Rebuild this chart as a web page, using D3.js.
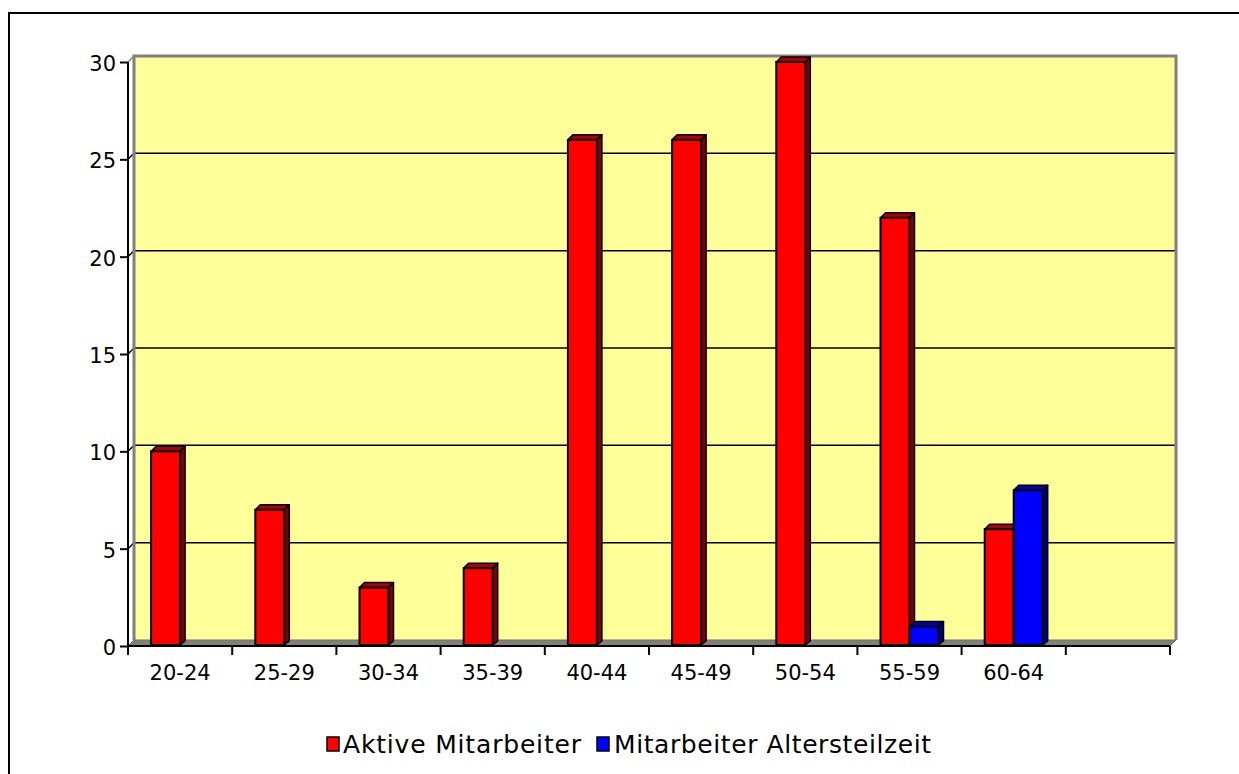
<!DOCTYPE html>
<html>
<head>
<meta charset="utf-8">
<title>Altersstruktur</title>
<script src="https://d3js.org/d3.v7.min.js"></script>
<style>
  body { margin: 0; background: #fff; }
  text { font-family: "DejaVu Sans", Verdana, sans-serif; fill: #000; }
</style>
</head>
<body>
<script>
var categories = ["20-24", "25-29", "30-34", "35-39", "40-44", "45-49", "50-54", "55-59", "60-64", ""];
var aktive = [10, 7, 3, 4, 26, 26, 30, 22, 6, null];
var altersteilzeit = [null, null, null, null, null, null, null, 1, 8, null];
var seriesNames = ["Aktive Mitarbeiter", "Mitarbeiter Altersteilzeit"];
var yTicks = [0, 5, 10, 15, 20, 25, 30];

var width = 1239, height = 774;
var depth = 6;      // wall depth
var barDepth = 5;   // column depth

var colors = {
  front: ["#ff0000", "#0000ff"],
  top:   ["#b00000", "#0000b0"],
  side:  ["#800000", "#000080"]
};

var svg = d3.select("body").append("svg")
    .attr("width", width)
    .attr("height", height);

// outer frame
svg.append("rect")
    .attr("x", 9).attr("y", 13)
    .attr("width", 1240).attr("height", 780)
    .attr("fill", "none")
    .attr("stroke", "#000")
    .attr("stroke-width", 2);

var x0 = d3.scaleBand()
    .domain(categories.map(function(d, i) { return i; }))
    .range([128, 1170])
    .paddingInner(0);

var y = d3.scaleLinear()
    .domain([0, 30])
    .range([646, 62]);

var x1 = d3.scaleBand()
    .domain([0, 1])
    .range([0, 58]);

// note: "top" is reserved on window, so plot edges get their own names
var pLeft = 128, pRight = 1170, pBottom = y(0), pTop = y(30);

// back wall
svg.append("rect")
    .attr("x", pLeft + depth).attr("y", pTop - depth)
    .attr("width", pRight - pLeft).attr("height", pBottom - pTop)
    .attr("fill", "#ffff99");

// gridlines on back wall + side diagonals
var grid = svg.append("g");
yTicks.filter(function(v) { return v > 0; }).forEach(function(v) {
  grid.append("line")
      .attr("x1", pLeft).attr("y1", y(v))
      .attr("x2", pLeft + depth).attr("y2", y(v) - depth)
      .attr("stroke", v === 30 ? "#808080" : "#000").attr("stroke-width", 1.5);
  if (v < 30) {
    grid.append("line")
        .attr("x1", pLeft + depth).attr("y1", y(v) - depth)
        .attr("x2", pRight + depth).attr("y2", y(v) - depth)
        .attr("stroke", "#000").attr("stroke-width", 1.5);
  }
});

// wall edges
svg.append("polyline")
    .attr("points", [[pLeft + depth, pBottom - depth], [pLeft + depth, pTop - depth], [pRight + depth, pTop - depth], [pRight + depth, pBottom - depth]].join(" "))
    .attr("fill", "none")
    .attr("stroke", "#808080")
    .attr("stroke-width", 3);

// floor
svg.append("polygon")
    .attr("points", [[pLeft, pBottom], [pLeft + depth, pBottom - depth], [pRight + depth, pBottom - depth], [pRight, pBottom]].join(" "))
    .attr("fill", "#808080")
    .attr("stroke", "#6e6e6e")
    .attr("stroke-width", 1);

// bars
var data = [];
categories.forEach(function(c, i) {
  [aktive[i], altersteilzeit[i]].forEach(function(v, s) {
    if (v != null) data.push({ cat: i, s: s, v: v });
  });
});

var bars = svg.append("g").selectAll("g")
    .data(data)
    .enter().append("g");

function bx(d) { return x0(d.cat) + x0.bandwidth() / 2 - 29 + x1(d.s); }
var bw = x1.bandwidth();

bars.append("polygon")
    .attr("points", function(d) {
      var x = bx(d), t = y(d.v);
      return [[x, t], [x + barDepth, t - barDepth], [x + bw + barDepth, t - barDepth], [x + bw, t]].join(" ");
    })
    .attr("fill", function(d) { return colors.top[d.s]; })
    .attr("stroke", "#000").attr("stroke-width", 1.5).attr("stroke-linejoin", "round");

bars.append("polygon")
    .attr("points", function(d) {
      var x = bx(d) + bw, t = y(d.v);
      return [[x, t], [x + barDepth, t - barDepth], [x + barDepth, pBottom - barDepth], [x, pBottom - 1]].join(" ");
    })
    .attr("fill", function(d) { return colors.side[d.s]; })
    .attr("stroke", "#000").attr("stroke-width", 1.5).attr("stroke-linejoin", "round");

bars.append("rect")
    .attr("x", bx)
    .attr("y", function(d) { return y(d.v); })
    .attr("width", bw)
    .attr("height", function(d) { return pBottom - 1 - y(d.v); })
    .attr("fill", function(d) { return colors.front[d.s]; })
    .attr("stroke", "#000").attr("stroke-width", 2);

// y axis
var yAxis = svg.append("g")
    .attr("transform", "translate(" + pLeft + ",0)")
    .call(d3.axisLeft(y).tickValues(yTicks).tickSize(8).tickPadding(4));
yAxis.select(".domain").attr("stroke", "#000").attr("stroke-width", 2).attr("d", "M0," + pTop + "V" + pBottom);
yAxis.selectAll(".tick line").attr("stroke", "#000").attr("stroke-width", 2);
yAxis.selectAll("text").style("font-size", "21px").attr("fill", "#000").attr("dy", "0.4em");

// x axis
var xTickPos = d3.range(categories.length + 1).map(function(i) { return pLeft + i * x0.bandwidth(); });
var xAxisG = svg.append("g");
xAxisG.append("line")
    .attr("x1", pLeft).attr("y1", pBottom)
    .attr("x2", pRight).attr("y2", pBottom)
    .attr("stroke", "#000").attr("stroke-width", 2);
xAxisG.selectAll(".xt")
    .data(xTickPos)
    .enter().append("line")
    .attr("x1", function(d) { return d; }).attr("x2", function(d) { return d; })
    .attr("y1", pBottom).attr("y2", pBottom + 9)
    .attr("stroke", "#000").attr("stroke-width", 2);
xAxisG.selectAll(".xl")
    .data(categories)
    .enter().append("text")
    .attr("x", function(d, i) { return x0(i) + x0.bandwidth() / 2; })
    .attr("y", 680)
    .attr("text-anchor", "middle")
    .style("font-size", "21px")
    .text(function(d) { return d; });

// legend
var legend = svg.append("g");
var legendItems = [
  { x: 327, tx: 343, w: 238, s: 0 },
  { x: 597, tx: 614, w: 317, s: 1 }
];
legendItems.forEach(function(it) {
  legend.append("rect")
      .attr("x", it.x).attr("y", 737)
      .attr("width", 12).attr("height", 14)
      .attr("fill", colors.front[it.s])
      .attr("stroke", "#000").attr("stroke-width", 1.5);
  legend.append("text")
      .attr("x", it.tx).attr("y", 753)
      .attr("textLength", it.w)
      .attr("lengthAdjust", "spacing")
      .style("font-size", "25px")
      .text(seriesNames[it.s]);
});
</script>
</body>
</html>
